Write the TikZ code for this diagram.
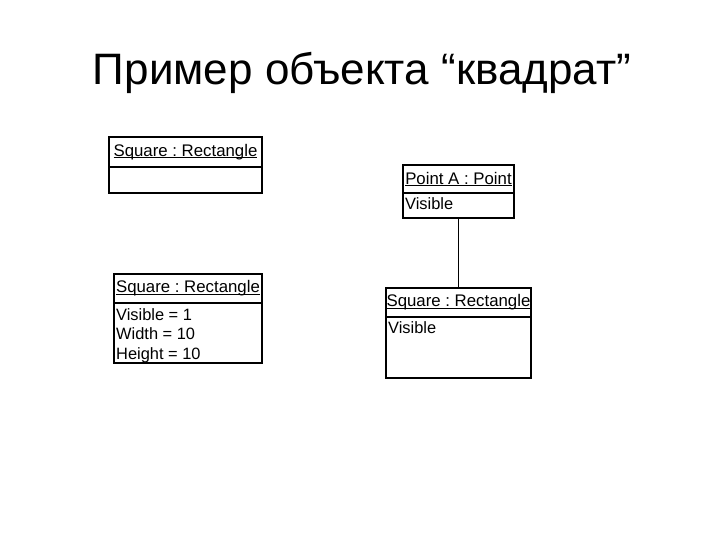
\documentclass[tikz,border=0pt]{standalone}
\usepackage{fontspec}
\setmainfont{Liberation Sans}
\usepackage{tikz}
\usetikzlibrary{positioning}

\newcommand{\objname}[1]{\setbox0\hbox{#1}\rlap{\rule[-1.8pt]{\wd0}{0.9pt}}\box0}

\tikzset{
  objhead/.style={draw, line width=1.2pt, inner sep=0pt, outer sep=0pt,
    font=\fontsize{16.8}{19}\selectfont},
  objbody/.style={draw, line width=1.2pt, inner sep=0pt, outer sep=0pt},
  attrs/.style={anchor=north west, align=left, inner sep=0pt,
    font=\fontsize{16.4}{19.5}\selectfont},
  link/.style={line width=1pt}
}

\begin{document}
\frenchspacing
\begin{tikzpicture}[x=1pt, y=-1pt]
            \useasboundingbox (0,0) rectangle (720,540);
            \node[anchor=base, font=\fontsize{44}{50}\selectfont] (title) at (362,85) {Пример объекта “квадрат”};
            % empty object
            \node[objhead, anchor=north west, minimum width=153, minimum height=30] (head1) at (109,137) {\objname{Square : Rectangle}};
            \node[objbody, minimum width=153, minimum height=26, below=0pt of head1] (body1) {};
            % object with values
            \node[objhead, anchor=north west, minimum width=148, minimum height=29] (head2) at (114,274) {\objname{Square : Rectangle}};
            \node[objbody, minimum width=148, minimum height=60, below=0pt of head2] (body2) {};
            \node[attrs] (vals2) at ([xshift=2, yshift=-5]body2.north west) {Visible = 1\\Width = 10\\Height = 10};
            % point object
            \node[objhead, anchor=north west, minimum width=111, minimum height=28] (head3) at (403,165) {\objname{Point A : Point}};
            \node[objbody, minimum width=111, minimum height=25, below=0pt of head3] (body3) {};
            \node[attrs] (vals3) at ([xshift=2, yshift=-4]body3.north west) {Visible};
            % linked square
            \node[objhead, anchor=north west, minimum width=145, minimum height=29] (head4) at (386,288) {\objname{Square : Rectangle}};
            \node[objbody, minimum width=145, minimum height=61, below=0pt of head4] (body4) {};
            \node[attrs] (vals4) at ([xshift=2, yshift=-4]body4.north west) {Visible};
            \draw[link] (body3.south) -- (head4.north);
        \end{tikzpicture}
\end{document}
